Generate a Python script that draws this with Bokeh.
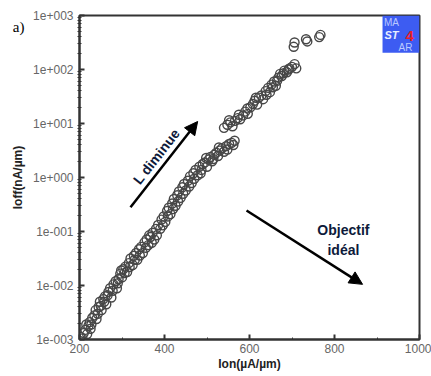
from bokeh.plotting import figure
from bokeh.models import (Arrow, NormalHead, Label, BoxAnnotation, FixedTicker, LogAxis,
                          CustomJSTickFormatter, Range1d, ColumnDataSource)
from bokeh.embed import file_html
from bokeh.resources import INLINE

# ---------------- data (Ion in uA/um, Ioff in nA/um) ----------------
ion = [202, 207, 210, 214, 218, 221, 224, 226, 230, 235, 238, 240, 245, 248, 252,
       256, 260, 263, 268, 272, 275, 280, 285, 288, 292, 296, 300, 303, 308, 312,
       316, 320, 325, 328, 333, 336, 340, 345, 349, 353, 358, 362, 367, 372, 376,
       380, 385, 390, 393, 398, 402, 406, 410, 414, 418, 422, 426, 430, 434, 438,
       442, 446, 450, 455, 460, 464, 468, 473, 478, 482, 487, 490, 495, 500, 504,
       508, 512, 517, 522, 526, 530, 535, 540, 545, 552, 558, 565,
       216, 228, 243, 250, 258, 266, 278, 290, 298, 306, 318, 330, 342, 356, 364,
       370, 382, 396, 408, 420, 432, 444, 458, 470, 485, 498, 515, 528, 548, 562,
       540, 548, 555, 560, 566, 572, 578, 585, 590, 596, 602, 608, 612, 618, 622,
       628, 632, 638, 644, 648, 652, 658, 662, 668, 672, 676, 682, 688, 694, 700,
       706, 710, 552, 575, 595, 615, 640, 655, 665, 680, 692,
       704, 706, 733, 736, 764, 767]
ioff = [0.00112, 0.00105, 0.00132, 0.00151, 0.00126, 0.00178, 0.0021, 0.00158, 0.0025, 0.0028,
        0.0035, 0.0024, 0.0040, 0.0050, 0.0035, 0.0056, 0.0063, 0.0045, 0.0076, 0.0089,
        0.0060, 0.0105, 0.012, 0.0089, 0.0132, 0.0166, 0.0141, 0.020, 0.0224, 0.0178,
        0.026, 0.0316, 0.024, 0.0355, 0.040, 0.030, 0.047, 0.052, 0.040, 0.063,
        0.071, 0.056, 0.079, 0.095, 0.071, 0.112, 0.132, 0.112, 0.166, 0.19,
        0.151, 0.24, 0.275, 0.21, 0.33, 0.40, 0.30, 0.47, 0.55, 0.42,
        0.66, 0.76, 0.575, 0.87, 1.05, 0.79, 1.20, 1.38, 1.10, 1.58,
        1.38, 1.78, 1.9, 1.58, 2.14, 2.4, 2.0, 2.63, 2.88, 2.5,
        3.16, 3.47, 3.0, 3.8, 4.17, 4.37, 4.8,
        0.0019, 0.0019, 0.0030, 0.0042, 0.0050, 0.0066, 0.0080, 0.0110, 0.019, 0.017,
        0.022, 0.030, 0.036, 0.050, 0.085, 0.062, 0.085, 0.13, 0.19, 0.26,
        0.36, 0.50, 0.68, 0.95, 1.20, 2.3, 2.2, 3.6, 3.3, 4.0,
        8.3, 9.5, 10.5, 8.9, 11.2, 12.6, 12.0, 14.1, 16.6, 15.1,
        20.0, 22.9, 26.3, 22.4, 30.2, 33.1, 28.2, 39.8, 45.7, 38.0,
        52.5, 60.0, 50.0, 70.8, 83.0, 75.9, 95.5, 89.0, 105.0, 112.0,
        126.0, 105.0, 11.5, 14.5, 19.0, 30.0, 34.0, 47.0, 62.0, 85.0, 100.0,
        263.0, 316.0, 363.0, 331.0, 398.0, 437.0]

x_ticks = [200, 400, 600, 800, 1000]
x_minor = [300, 500, 700, 900]
y_ticks = [0.001, 0.01, 0.1, 1, 10, 100, 1000]
y_tick_labels = ["1e-003", "1e-002", "1e-001", "1e+000", "1e+001", "1e+002", "1e+003"]

x_label = "Ion(µA/µm)"
y_label = "Ioff(nA/µm)"

# annotations (positions in data coordinates)
arrow1 = (320, 0.28, 478, 10.9)
arrow2 = (593, 0.245, 866, 0.0105)
txt_L = ("L diminue", 381, 2.45)
txt_obj1 = ("Objectif", 821, 0.105)
txt_obj2 = ("idéal", 821, 0.0447)
panel_tag = ("a)", 600)

# ---------------- figure ----------------
p = figure(width=431, height=376, x_range=Range1d(200, 1000), y_range=Range1d(1e-3, 1e3),
           y_axis_type="log", output_backend="svg", toolbar_location=None,
           min_border_left=79, min_border_right=12, min_border_top=15, min_border_bottom=37)
p.background_fill_color = "white"
p.border_fill_color = "white"
p.grid.visible = False
p.outline_line_color = "#333333"
p.outline_line_width = 2
p.outline_line_alpha = 1.0

AX_FONT = "Liberation Sans"
for ax in (p.xaxis[0], p.yaxis[0]):
    ax.axis_line_color = "#333333"
    ax.axis_line_width = 2
    ax.major_tick_line_color = "#333333"
    ax.major_tick_line_width = 2
    ax.minor_tick_line_color = "#333333"
    ax.minor_tick_line_width = 1
    ax.major_tick_in = 5
    ax.major_tick_out = 0
    ax.major_label_text_font = AX_FONT
    ax.major_label_text_font_size = "12px"
    ax.major_label_text_color = "#666666"
    ax.axis_label_text_font = AX_FONT
    ax.axis_label_text_font_style = "bold"
    ax.axis_label_text_font_size = "12px"
    ax.axis_label_text_color = "#222222"

p.xaxis.ticker = FixedTicker(ticks=x_ticks, minor_ticks=x_minor)
p.xaxis.minor_tick_in = 2
p.xaxis.minor_tick_out = 0
p.xaxis.major_label_standoff = 4
p.xaxis.axis_label_standoff = 1
p.xaxis.axis_label = x_label

y_minor = [m * t for t in y_ticks[:-1] for m in range(2, 10)]
p.yaxis.ticker = FixedTicker(ticks=y_ticks, minor_ticks=y_minor)
p.yaxis.minor_tick_in = 2
p.yaxis.minor_tick_out = 2
p.yaxis.major_label_standoff = 4
p.yaxis.axis_label_standoff = 5
p.yaxis.axis_label = y_label
p.yaxis.formatter = CustomJSTickFormatter(args=dict(labels=y_tick_labels, yvals=y_ticks), code="""
    let best = 0, bd = 1e9;
    for (let i = 0; i < yvals.length; i++) {
        const d = Math.abs(Math.log10(yvals[i]) - Math.log10(tick));
        if (d < bd) { bd = d; best = i; }
    }
    return labels[best];
""")

# panel tag "a)" drawn as the single label of a bare outer axis (outside the frame)
tag_axis = LogAxis(ticker=FixedTicker(ticks=[panel_tag[1]], minor_ticks=[]),
                   formatter=CustomJSTickFormatter(args=dict(tag=panel_tag[0]), code="return tag;"),
                   axis_line_color=None, major_tick_line_color=None, minor_tick_line_color=None,
                   major_tick_in=0, major_tick_out=0, minor_tick_in=0, minor_tick_out=0,
                   major_label_standoff=-16,
                   major_label_text_font="Liberation Serif", major_label_text_font_size="15px",
                   major_label_text_color="black")
p.add_layout(tag_axis, "left")

src = ColumnDataSource(dict(ion=ion, ioff=ioff))
p.scatter("ion", "ioff", source=src, size=9, fill_color=None,
          line_color="#474747", line_width=1.4)

# arrows
for (x0, y0, x1, y1) in (arrow1, arrow2):
    p.add_layout(Arrow(end=NormalHead(size=13, fill_color="black", line_color="black"),
                       x_start=x0, y_start=y0, x_end=x1, y_end=y1,
                       line_color="black", line_width=2.5))

TXT_COLOR = "#0d1a3a"
p.add_layout(Label(x=txt_L[1], y=txt_L[2], text=txt_L[0], angle=0.907,
                   text_align="center", text_baseline="middle",
                   text_font=AX_FONT, text_font_style="bold", text_font_size="14px",
                   text_color=TXT_COLOR))
for t in (txt_obj1, txt_obj2):
    p.add_layout(Label(x=t[1], y=t[2], text=t[0], text_align="center", text_baseline="middle",
                       text_font=AX_FONT, text_font_style="bold", text_font_size="14px",
                       text_color=TXT_COLOR))

# MASTAR logo
p.add_layout(BoxAnnotation(left=913, right=1000, bottom=204, top=1000,
                           fill_color="#3d5cf2", fill_alpha=1.0, line_color=None))
for (tx, ty, tt, col, style, fs) in ((934, 741, "MA", "#b9c9ff", "normal", "10px"),
                                     (934, 440, "ST", "#e8eeff", "bold italic", "11px"),
                                     (977, 426, "4", "#e8202a", "bold", "15px"),
                                     (967, 257, "AR", "#b9c9ff", "normal", "10px")):
    p.add_layout(Label(x=tx, y=ty, text=tt, text_align="center", text_baseline="middle",
                       text_font=AX_FONT, text_font_style=style, text_font_size=fs,
                       text_color=col))

open("out.html", "w").write(file_html(p, INLINE))
